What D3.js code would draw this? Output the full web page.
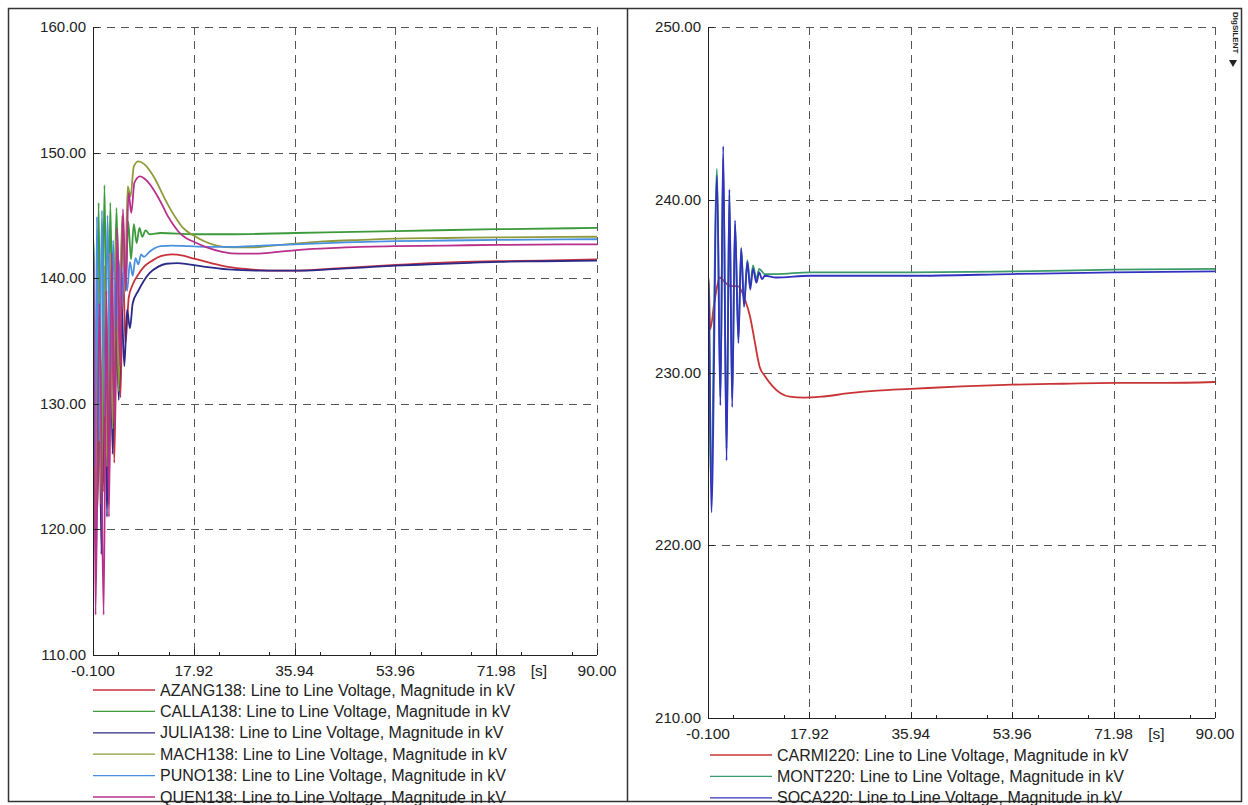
<!DOCTYPE html>
<html>
<head>
<meta charset="utf-8">
<script src="https://cdn.jsdelivr.net/npm/d3@7"></script>
<style>
  body { margin: 0; background: #fff; }
  svg { display: block; font-family: "Liberation Sans", Arial, sans-serif; }
</style>
</head>
<body>
<svg id="chart" width="1248" height="805"></svg>
<script>
// ejes compartidos
const timeTicks = [-0.1, 17.92, 35.94, 53.96, 71.98, 90.0];
const timeLabels = ["-0.100", "17.92", "35.94", "53.96", "71.98", "90.00"];
const leftYTicks = [110, 120, 130, 140, 150, 160];
const rightYTicks = [210, 220, 230, 240, 250];

// barras de 138 kV  [t (s), kV]
const azang138 = [[-0.1,141.5],[0,141.5],[0.3,128],[0.7,121.5],[1.2,134],[1.7,123],[2.2,137],[2.7,122],[3.2,139],[3.7,125.3],[4.3,140],[4.8,130.5],[5.3,140.5],[5.7,134.8],[6.3,138.5],[7,139.5],[8,140.3],[9,140.9],[10.5,141.4],[12,141.75],[14,141.9],[16,141.8],[18,141.55],[21,141.2],[24,140.9],[28,140.7],[32,140.6],[36,140.6],[42,140.75],[48,140.9],[54,141.05],[60,141.2],[66,141.3],[72,141.35],[80,141.4],[90,141.5]];
const calla138 = [[-0.1,143.5],[0,143.5],[0.4,124],[0.9,146],[1.4,127],[1.95,147.4],[2.5,130],[3.0,146],[3.5,133],[4.1,145.6],[4.6,136],[5.2,144.8],[5.7,139],[6.2,144.5],[6.7,141.5],[7.2,144.3],[7.7,142.8],[8.2,144.0],[8.7,143.3],[9.3,143.8],[10,143.5],[12,143.6],[18,143.5],[25,143.5],[36,143.6],[54,143.75],[72,143.9],[90,144.0]];
const julia138 = [[-0.1,141.3],[0,141.3],[0.4,116],[0.9,138],[1.4,118],[1.9,139],[2.4,121],[2.9,139.5],[3.4,126],[3.9,139.5],[4.5,130.3],[5,138],[5.5,133],[6,137.5],[6.5,136],[7,138],[8,139],[9,139.8],[10,140.4],[11.5,140.9],[13,141.15],[15,141.2],[17,141.1],[20,140.9],[24,140.7],[30,140.6],[36,140.6],[42,140.7],[48,140.85],[54,141.0],[60,141.1],[66,141.2],[72,141.3],[80,141.35],[90,141.4]];
const mach138 = [[-0.1,143.2],[0,143.2],[0.4,120],[0.9,140],[1.4,122],[1.9,141],[2.4,125],[2.9,142],[3.4,128],[4,143],[4.5,131],[5.1,145],[5.6,139],[6.1,147.3],[6.6,146.5],[7.2,148.9],[8,149.3],[9,149.1],[10,148.6],[11,147.9],[12,147.0],[13,146.1],[14,145.3],[15,144.6],[16,144.0],[17.9,143.4],[20,142.9],[22,142.6],[25,142.45],[28,142.45],[32,142.6],[36,142.75],[42,142.95],[48,143.05],[54,143.15],[63,143.2],[72,143.25],[90,143.3]];
const puno138 = [[-0.1,143],[0,143],[0.3,125],[0.6,144.9],[1.0,127],[1.5,145.4],[2.0,129],[2.5,145.0],[3.0,132],[3.5,143],[4.0,135],[4.5,141.5],[5.0,137.5],[5.5,141],[6,139],[6.5,141.3],[7,140.2],[7.5,141.6],[8,141.1],[8.5,141.9],[9,141.7],[10,142.1],[11,142.4],[12,142.55],[14,142.6],[17,142.55],[20,142.5],[25,142.5],[30,142.6],[36,142.7],[45,142.85],[54,142.95],[63,143.0],[72,143.05],[90,143.1]];
const quen138 = [[-0.1,142.5],[0,142.5],[0.35,113.2],[1.05,138],[1.8,113.2],[2.3,139],[2.75,121],[3.25,142],[3.75,128],[4.25,144],[4.75,133],[5.25,145.5],[5.75,139],[6.25,146.8],[6.75,145.2],[7.3,147.6],[8.3,148.1],[9.2,147.9],[10.2,147.4],[11.2,146.7],[12.2,145.9],[13.2,145.0],[14.2,144.3],[15.2,143.7],[16.5,143.2],[17.9,142.9],[20,142.5],[23,142.1],[26,141.95],[29,141.95],[33,142.1],[38,142.3],[45,142.45],[54,142.55],[63,142.6],[72,142.65],[90,142.7]];

// barras de 220 kV
const carmi220 = [[-0.1,235.5],[0,235.5],[0.3,232.5],[1,234],[2,235.5],[3,235.2],[4,235],[5.2,235.0],[6.5,234.2],[7.4,233.2],[8.2,231.8],[8.7,230.9],[9.1,230.3],[10,229.8],[11.4,229.2],[12.8,228.8],[14.4,228.6],[17,228.55],[20,228.6],[25,228.8],[30,228.95],[36,229.05],[45,229.2],[54,229.3],[63,229.35],[72,229.4],[81,229.4],[90,229.45]];
const mont220 = [[-0.1,235.7],[0,235.7],[0.4,223.5],[1.5,241.8],[2.1,228.6],[2.6,242.4],[3.2,225.6],[3.7,240.3],[4.2,228.5],[4.7,238.6],[5.3,232],[5.8,237.2],[6.3,234],[6.9,236.5],[7.4,235],[7.9,236.2],[8.5,235.4],[9,236],[10,235.7],[12,235.7],[18,235.8],[36,235.8],[54,235.85],[72,235.95],[90,236.0]];
const soca220 = [[-0.1,235.6],[0,235.6],[0.5,221.9],[1.5,241.4],[2.1,228.1],[2.6,243.1],[3.2,224.9],[3.7,240.6],[4.2,228],[4.7,238.8],[5.3,231.7],[5.8,237.2],[6.3,233.8],[6.9,236.4],[7.4,234.8],[7.9,236.0],[8.5,235.2],[9,235.8],[9.5,235.4],[10,235.6],[12,235.5],[18,235.6],[36,235.6],[54,235.7],[72,235.8],[90,235.85]];

const leftSeries = [
    { name: "AZANG138", data: azang138, color: "#c8323c" },
    { name: "CALLA138", data: calla138, color: "#3c9a3c" },
    { name: "JULIA138", data: julia138, color: "#2b2a88" },
    { name: "MACH138", data: mach138, color: "#8f9a3a" },
    { name: "PUNO138", data: puno138, color: "#4a90e0" },
    { name: "QUEN138", data: quen138, color: "#b8308c" }
];
const rightSeries = [
    { name: "CARMI220", data: carmi220, color: "#c83434" },
    { name: "MONT220", data: mont220, color: "#3a9a6a" },
    { name: "SOCA220", data: soca220, color: "#3232c0" }
];
const legendSuffix = ": Line to Line Voltage, Magnitude in kV";

const svg = d3.select("#chart");

// marco exterior
svg.append("rect")
    .attr("x", 8.5).attr("y", 8.5)
    .attr("width", 1233).attr("height", 793)
    .attr("fill", "none").attr("stroke", "#333").attr("stroke-width", 1.5);
svg.append("line")
    .attr("x1", 627.5).attr("x2", 627.5).attr("y1", 8).attr("y2", 802)
    .attr("stroke", "#333").attr("stroke-width", 1.5);

// logo
svg.append("text")
    .attr("transform", "translate(1233,12) rotate(90)")
    .attr("font-size", 8).attr("font-weight", "bold").attr("fill", "#222")
    .text("DIgSILENT");
svg.append("path")
    .attr("d", "M1229,60 L1237,60 L1233,67 Z")
    .attr("fill", "#222");

function drawPanel(cfg) {
    const x = d3.scaleLinear().domain([-0.1, 90]).range([cfg.left, cfg.right]);
    const y = d3.scaleLinear().domain(cfg.yDomain).range([cfg.bottom, cfg.top]);
    const g = svg.append("g");

    // rejilla
    g.selectAll(".hgrid")
        .data(cfg.yTicks.filter(d => d !== cfg.yDomain[0]))
        .enter().append("line")
        .attr("x1", cfg.left).attr("x2", cfg.right)
        .attr("y1", d => Math.round(y(d)) + 0.5).attr("y2", d => Math.round(y(d)) + 0.5)
        .attr("stroke", "#555").attr("stroke-dasharray", "8,6");
    g.selectAll(".vgrid")
        .data(timeTicks.slice(1))
        .enter().append("line")
        .attr("x1", d => Math.round(x(d)) + 0.5).attr("x2", d => Math.round(x(d)) + 0.5)
        .attr("y1", cfg.top).attr("y2", cfg.bottom)
        .attr("stroke", "#555").attr("stroke-dasharray", "8,6");

    // curvas
    const clipId = "clip" + cfg.left;
    svg.append("clipPath").attr("id", clipId)
        .append("rect")
        .attr("x", cfg.left).attr("y", cfg.top - 2)
        .attr("width", cfg.right - cfg.left).attr("height", cfg.bottom - cfg.top + 2);

    const line = d3.line()
        .x(d => x(d[0]))
        .y(d => y(d[1]))
        .curve(d3.curveMonotoneX);

    g.append("g").attr("clip-path", `url(#${clipId})`)
        .selectAll("path")
        .data(cfg.series)
        .enter().append("path")
        .attr("d", d => line(d.data))
        .attr("fill", "none")
        .attr("stroke", d => d.color)
        .attr("stroke-width", 1.8);

    // ejes
    g.append("line")
        .attr("x1", cfg.left + 0.5).attr("x2", cfg.left + 0.5)
        .attr("y1", cfg.top).attr("y2", cfg.bottom)
        .attr("stroke", "#222");
    g.append("line")
        .attr("x1", cfg.left).attr("x2", cfg.right)
        .attr("y1", cfg.bottom + 0.5).attr("y2", cfg.bottom + 0.5)
        .attr("stroke", "#222");

    // marcas menores y mayores en el eje x
    const minor = d3.range(0, 10).map(i => -0.1 + i * 9.01 + 4.505);
    g.selectAll(".minor")
        .data(minor)
        .enter().append("line")
        .attr("x1", d => Math.round(x(d)) + 0.5).attr("x2", d => Math.round(x(d)) + 0.5)
        .attr("y1", cfg.bottom - 3).attr("y2", cfg.bottom)
        .attr("stroke", "#222");
    g.selectAll(".major")
        .data(timeTicks)
        .enter().append("line")
        .attr("x1", d => Math.round(x(d)) + 0.5).attr("x2", d => Math.round(x(d)) + 0.5)
        .attr("y1", cfg.bottom - 6).attr("y2", cfg.bottom)
        .attr("stroke", "#222");
    g.selectAll(".ytick")
        .data(cfg.yTicks)
        .enter().append("line")
        .attr("x1", cfg.left).attr("x2", cfg.left + 6)
        .attr("y1", d => Math.round(y(d)) + 0.5).attr("y2", d => Math.round(y(d)) + 0.5)
        .attr("stroke", "#222");

    // etiquetas
    g.selectAll(".ylab")
        .data(cfg.yTicks)
        .enter().append("text")
        .attr("x", cfg.left - 7)
        .attr("y", d => y(d) + 5)
        .attr("text-anchor", "end")
        .attr("font-size", 15)
        .attr("fill", "#222")
        .text(d => d3.format(".2f")(d));
    g.selectAll(".xlab")
        .data(timeTicks)
        .enter().append("text")
        .attr("x", d => x(d))
        .attr("y", cfg.bottom + 21)
        .attr("text-anchor", "middle")
        .attr("font-size", 15.5)
        .attr("fill", "#222")
        .text((d, i) => timeLabels[i]);
    g.append("text")
        .attr("x", x(79.6))
        .attr("y", cfg.bottom + 21)
        .attr("text-anchor", "middle")
        .attr("font-size", 15.5)
        .attr("fill", "#222")
        .text("[s]");

    // leyenda
    const items = g.selectAll(".legend-item")
        .data(cfg.series)
        .enter().append("g")
        .attr("transform", (d, i) => `translate(${cfg.legendX},${cfg.legendY + i * 21.4})`);
    items.append("line")
        .attr("x1", 0).attr("x2", 62)
        .attr("stroke", d => d.color).attr("stroke-width", 1.3);
    items.append("text")
        .attr("x", 67).attr("y", 5.5)
        .attr("font-size", 16)
        .attr("fill", "#222")
        .text(d => d.name + legendSuffix);
}

drawPanel({
    left: 93, right: 597, top: 27, bottom: 655,
    yDomain: [110, 160], yTicks: leftYTicks,
    series: leftSeries, legendX: 93, legendY: 690
});
drawPanel({
    left: 708, right: 1215, top: 27, bottom: 718,
    yDomain: [210, 250], yTicks: rightYTicks,
    series: rightSeries, legendX: 710, legendY: 755
});
</script>
</body>
</html>
